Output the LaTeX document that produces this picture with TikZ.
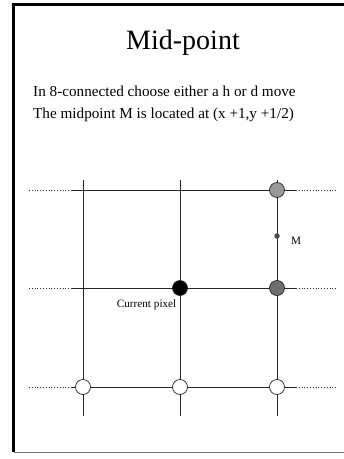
\documentclass[tikz,border=0pt]{standalone}
\usepackage{fontspec}
\setmainfont{Liberation Serif}
\usetikzlibrary{positioning}

\begin{document}
\begin{tikzpicture}[
  x=1pt,y=-1pt,
  gridline/.style={line width=0.8pt,draw=black!85},
  ext/.style={dotted,line width=0.8pt,draw=black!85},
  pix/.style={circle,draw=black!85,line width=0.7pt,minimum size=15pt,inner sep=0pt},
  txt/.style={anchor=west,inner sep=0pt,font=\fontsize{15.2}{17}\selectfont},
  small/.style={inner sep=0pt,font=\fontsize{11.2}{13}\selectfont}
]
  \useasboundingbox (0,0) rectangle (344,459);
  % frame
  \draw[line width=3pt] (13.5,452) -- (13.5,4.5) -- (344,4.5);
  \draw[line width=1pt,draw=black!55] (13.5,452) -- (344,452);

  \node (title) at (183,43) {\fontsize{28}{30}\selectfont Mid-point};
  \node[txt] (line1) at (33,91) {In 8-connected choose either a h or d move};
  \node[txt] (line2) at (33,115) {The midpoint M is located at (x +1,y +1/2)};

  % grid lines
  \foreach \c/\x in {a/83,b/180,c/277}{
    \coordinate (\c top) at (\x,180);
    \coordinate (\c bot) at (\x,416);
    \draw[gridline] (\c top) -- (\c bot);
  }
  \foreach \r/\y in {1/190,2/288,3/387}{
    \coordinate (w\r) at (29,\y);
    \coordinate (l\r) at (72,\y);
    \coordinate (r\r) at (296,\y);
    \coordinate (e\r) at (336,\y);
    \draw[ext] (w\r) -- (l\r);
    \draw[gridline] (l\r) -- (r\r);
    \draw[ext] (r\r) -- (e\r);
  }

  % pixels
  \node[pix,fill=black!40] (ne) at (277,190) {};
  \node[pix,fill=black!57] (east) at (277,288) {};
  \node[pix,fill=black] (cur) at (180,288) {};
  \node[pix,fill=white] (sa) at (83,387) {};
  \node[pix,fill=white] (sb) at (180,387) {};
  \node[pix,fill=white] (sc) at (277,387) {};
  \node[circle,fill=black!70,minimum size=5.5pt,inner sep=0pt] (mid) at (277,236) {};

  \node[small,anchor=west] (mlabel) at (291,241) {M};
  \node[small,anchor=east] (curlabel) at (176.5,305) {Current pixel};
\end{tikzpicture}
\end{document}
